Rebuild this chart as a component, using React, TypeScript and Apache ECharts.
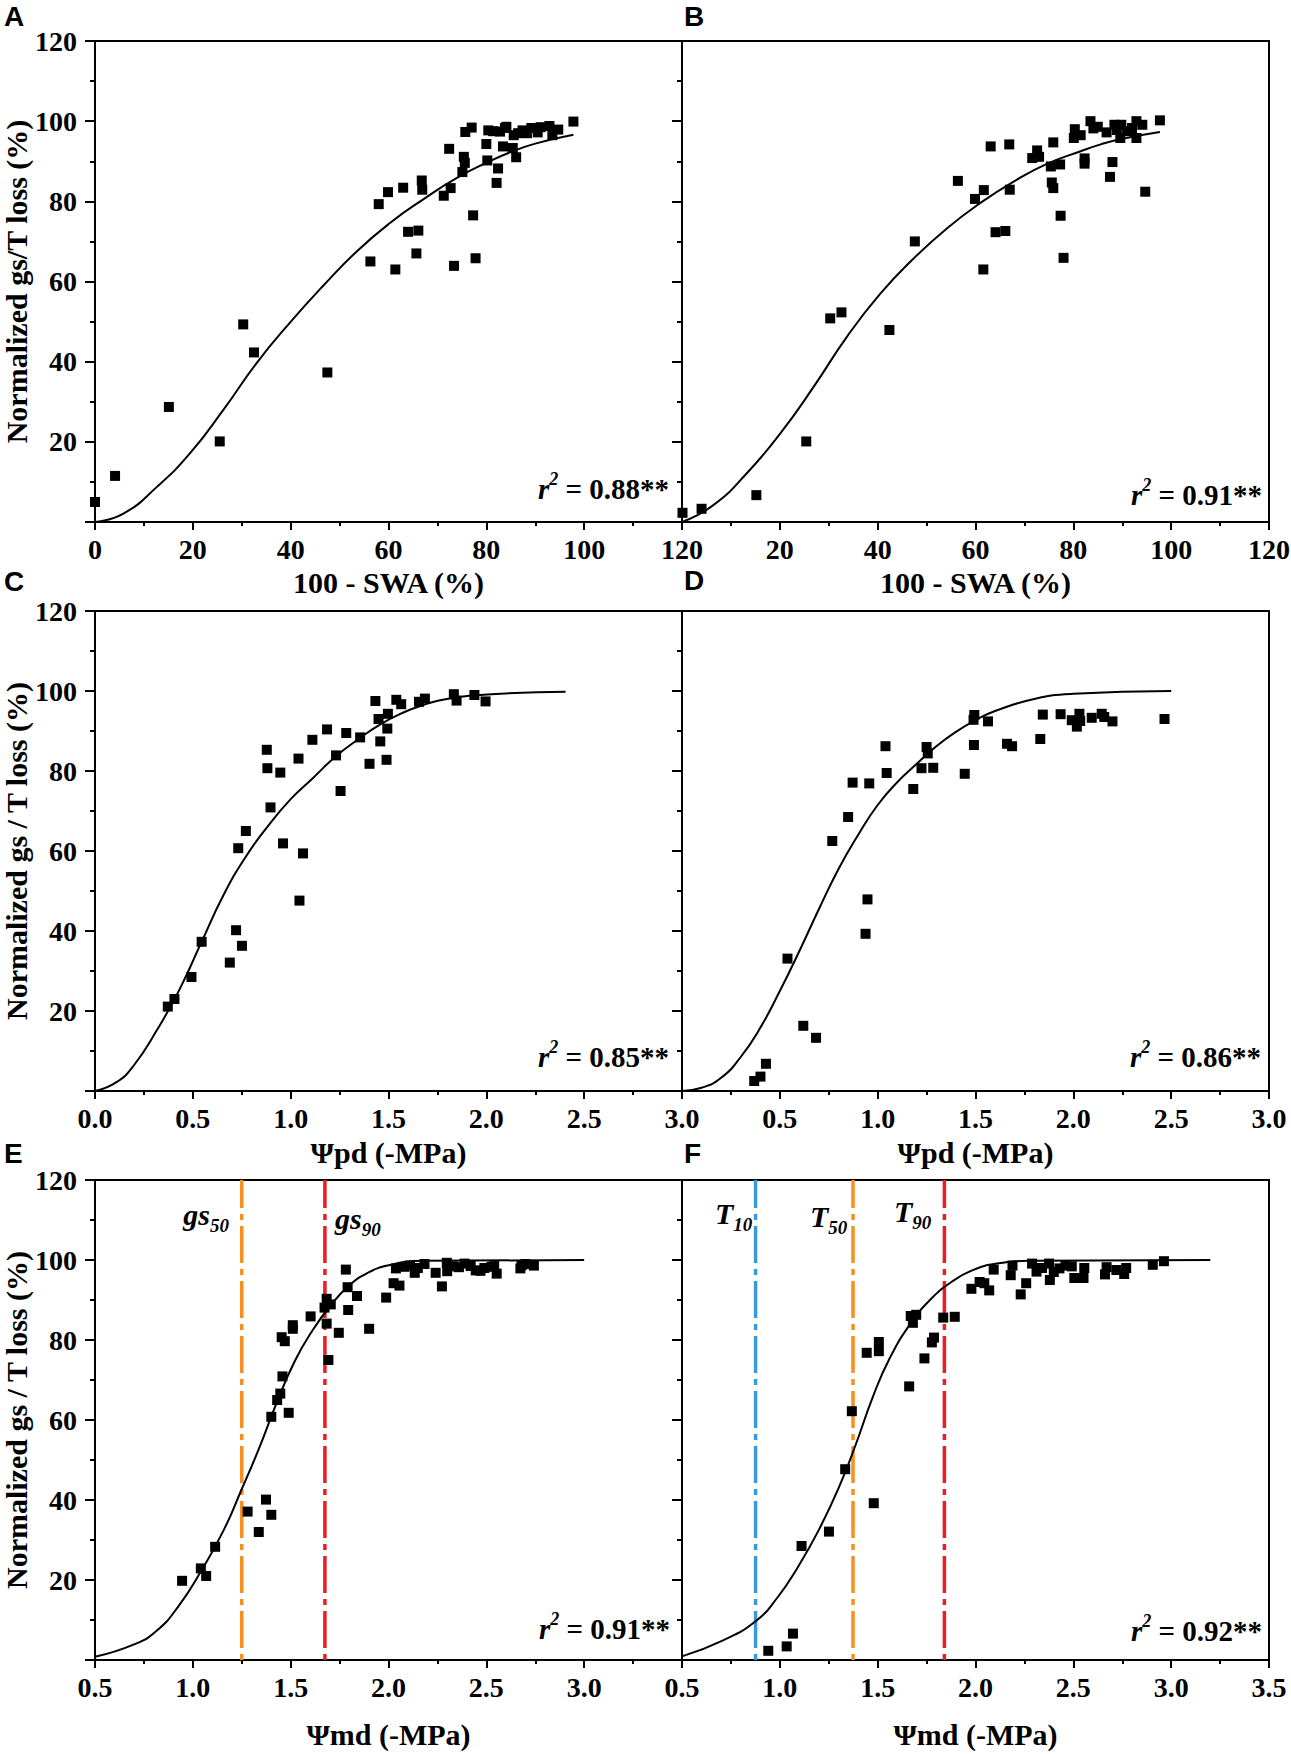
import React, { useEffect, useRef } from "react";
import * as echarts from "echarts";

// ---------- data ----------
const ptsA = [[0,5.0],[4.1,11.5],[15.1,28.7],[25.5,20.1],[30.3,49.3],[32.5,42.3],[47.5,37.3],[56.3,65],[58.0,79.3],[59.9,82.3],[61.4,63],[63.0,83.4],[64.0,72.4],[66.1,72.7],[65.7,67],[66.8,85.2],[66.9,82.9],[71.3,81.4],[72.4,93.1],[72.7,83.3],[73.4,63.9],[75.1,87.3],[75.4,91.1],[75.6,89.6],[75.7,97.3],[77.0,98.4],[77.3,76.5],[77.8,65.8],[80.0,94.3],[80.2,90.2],[80.4,97.7],[81.4,97.5],[82.1,84.6],[82.4,88.2],[82.8,97.4],[83.4,93.7],[83.8,98.3],[84.1,98.6],[85.4,93.3],[86.1,91.0],[85.6,96.5],[86.5,97.0],[87.4,97.7],[88.3,97.0],[89.2,98.3],[90.5,97.2],[91.1,98.5],[92.9,98.8],[93.5,96.5],[94.7,97.9],[97.8,99.9]];
const fitA = [[0,0],[5.8,2.1],[12.6,8.7],[19.4,17.1],[26.2,27.9],[33.0,39.6],[39.9,49.8],[46.7,59.0],[53.5,67.5],[60.3,74.6],[67.1,80.5],[73.9,85.8],[80.7,90.0],[85,92.3],[90,94.4],[97.8,96.6]];

const ptsB = [[0.1,2.3],[4.0,3.3],[15.2,6.7],[25.4,20.1],[30.3,50.8],[32.6,52.3],[42.4,47.9],[47.6,70],[56.4,85.1],[59.9,80.6],[61.7,82.8],[61.6,63],[63.1,93.7],[64.1,72.3],[66.1,72.6],[66.9,94.2],[67.0,82.9],[71.6,90.8],[72.6,92.7],[73.0,91.1],[75.4,88.7],[75.9,94.7],[75.6,84.7],[75.9,83.3],[77.3,89.2],[77.4,76.4],[78.0,65.9],[80.3,98.0],[80.1,95.8],[81.5,96.5],[82.3,90.7],[82.3,89.4],[83.5,100],[84.1,98.2],[85.0,98.6],[86.8,97.2],[88.0,89.8],[87.5,86.1],[88.4,99.1],[88.9,97.8],[89.8,99.1],[89.6,95.8],[91,97.5],[92,98.3],[92.9,100],[92.9,95.8],[94.1,99.1],[94.7,82.4],[97.7,100.2]];
const fitB = [[0,0],[6.4,4.2],[13.2,12.1],[20.1,22.1],[26.9,33.7],[33.7,46.2],[40.5,56.9],[47.4,65.8],[54.2,73.3],[61.0,79.6],[67.9,85.0],[74.7,89.4],[81.5,92.5],[85.6,94.2],[90,95.6],[97.7,97.3]];

const ptsC = [[0.372,21.1],[0.406,23.0],[0.493,28.5],[0.545,37.3],[0.689,32.1],[0.721,40.2],[0.751,36.3],[0.732,60.7],[0.771,65],[0.878,85.3],[0.881,80.7],[0.897,70.9],[0.947,79.6],[0.961,61.9],[1.040,83.1],[1.045,47.6],[1.063,59.4],[1.111,87.8],[1.186,90.4],[1.232,83.9],[1.255,75],[1.284,89.5],[1.355,88.4],[1.403,81.8],[1.433,97.5],[1.449,93],[1.458,87.4],[1.490,82.8],[1.497,94.3],[1.494,90.6],[1.540,97.8],[1.565,96.7],[1.656,97.3],[1.686,98.1],[1.834,99.2],[1.848,97.6],[1.939,99],[1.996,97.4]];
const fitC = [[0,0],[0.11,2.2],[0.2,6.5],[0.315,15.1],[0.429,25.1],[0.543,37.1],[0.657,49.0],[0.771,58.6],[0.885,66.3],[0.999,72.9],[1.113,78.2],[1.227,83.5],[1.342,87.8],[1.456,91.6],[1.57,94.5],[1.684,96.6],[1.798,98.0],[2.026,99.2],[2.405,99.8]];

const ptsD = [[0.369,2.5],[0.401,3.6],[0.429,6.8],[0.539,33.1],[0.620,16.3],[0.685,13.3],[0.768,62.5],[0.849,68.5],[0.872,77.1],[0.957,76.9],[0.948,47.9],[0.938,39.3],[1.040,86.2],[1.046,79.5],[1.182,75.5],[1.224,80.7],[1.250,86],[1.256,84.4],[1.284,80.8],[1.445,79.3],[1.494,94],[1.490,92.8],[1.492,86.5],[1.564,92.4],[1.661,86.8],[1.687,86.2],[1.831,88],[1.844,94.1],[1.935,94.2],[1.992,92.7],[2.018,91.1],[2.031,94.3],[2.035,92.5],[2.094,93.3],[2.145,94.3],[2.158,93.5],[2.2,92.4],[2.466,93]];
const fitD = [[0,0],[0.1,0.8],[0.2,3.3],[0.3,8.5],[0.4,15.8],[0.5,25],[0.6,35],[0.7,45.5],[0.8,55.5],[0.9,64],[1.0,71.5],[1.1,77.2],[1.2,81.8],[1.3,86.2],[1.4,89.8],[1.5,92.7],[1.6,95],[1.8,98],[2.0,99.3],[2.5,100]];

const ptsE = [[0.945,19.8],[1.041,22.9],[1.068,21.0],[1.114,28.3],[1.280,37.1],[1.337,32.0],[1.374,40.1],[1.401,36.3],[1.401,60.8],[1.431,65],[1.447,66.6],[1.458,70.9],[1.490,61.8],[1.454,80.7],[1.470,79.7],[1.511,83.7],[1.511,82.8],[1.602,85.9],[1.673,88.1],[1.684,90.3],[1.684,84.1],[1.693,75],[1.705,88.9],[1.746,81.8],[1.782,97.6],[1.791,93.2],[1.794,87.5],[1.839,91],[1.901,82.8],[1.988,90.6],[2.026,94.2],[2.038,97.9],[2.056,93.6],[2.081,98.3],[2.11,98.6],[2.134,96.8],[2.15,98.0],[2.184,99],[2.241,96.8],[2.273,93.4],[2.298,99.3],[2.30,97.2],[2.33,98.4],[2.36,98.2],[2.389,99.1],[2.42,98.5],[2.446,97.4],[2.47,97.3],[2.49,98.0],[2.526,98.3],[2.54,98.6],[2.553,96.6],[2.674,97.9],[2.68,98.7],[2.70,99.0],[2.743,98.6]];
const fitE = [[0.5,0.8],[0.7,3.9],[0.815,7.3],[0.929,13.6],[1.043,22.3],[1.157,32.4],[1.248,42.5],[1.34,53.1],[1.431,64.6],[1.522,74.8],[1.613,82.5],[1.705,88.7],[1.796,93.5],[1.887,96.6],[2.001,98.7],[2.184,99.8],[3.0,100]];
const refE = [1.25, 1.675];

const ptsF = [[0.941,2.3],[1.035,3.4],[1.067,6.6],[1.111,28.5],[1.251,32.1],[1.334,47.7],[1.368,62.2],[1.480,39.2],[1.444,76.8],[1.506,77.2],[1.506,79.5],[1.661,68.4],[1.669,86],[1.680,84.3],[1.697,86.3],[1.739,75.4],[1.777,79.4],[1.788,80.6],[1.835,85.6],[1.894,85.8],[1.979,92.8],[2.021,94.5],[2.045,94.2],[2.070,92.4],[2.093,97.6],[2.180,96.2],[2.189,98.6],[2.231,91.4],[2.259,94.2],[2.289,99.1],[2.312,97.1],[2.340,98.0],[2.376,99.1],[2.380,95],[2.40,97.0],[2.429,97.9],[2.46,98.6],[2.492,98.4],[2.505,95.5],[2.552,95.5],[2.556,98.0],[2.662,96.4],[2.67,98.2],[2.72,97.5],[2.77,98.0],[2.76,96.5],[2.906,98.8],[2.963,99.7]];
const fitF = [[0.5,0.9],[0.71,4.9],[0.876,9.7],[0.986,15.5],[1.092,23.2],[1.198,32.4],[1.304,43.4],[1.389,54],[1.474,65.6],[1.559,75.2],[1.665,83.9],[1.771,90.2],[1.877,94.5],[1.983,97.4],[2.11,99.1],[2.3,99.8],[3.2,100]];
const refF = [0.876, 1.374, 1.841];

const r2Labels = ["0.88", "0.91", "0.85", "0.86", "0.91", "0.92"];
const panelLetters = ["A", "B", "C", "D", "E", "F"];
const xTitles = ["100 - SWA (%)", "100 - SWA (%)", "\u03A8pd (-MPa)", "\u03A8pd (-MPa)", "\u03A8md (-MPa)", "\u03A8md (-MPa)"];
const yTitles = ["Normalized gs/T loss (%)", "", "Normalized gs / T loss (%)", "", "Normalized gs / T loss (%)", ""];
const xRanges = [[0, 120, 20], [0, 120, 20], [0, 3, 0.5], [0, 3, 0.5], [0.5, 3.5, 0.5], [0.5, 3.5, 0.5]];
const yRange = [0, 120, 20];

// ---------- layout ----------
const SERIF = "'Liberation Serif', 'Times New Roman', serif";
const SANS = "'Liberation Sans', Arial, sans-serif";
const LEFTS = [95, 682];
const TOPS = [41, 611, 1180];
const GW = 587;
const GH = 480;
const ORANGE = "#F7901E";
const RED = "#EC1C24";
const BLUE = "#3A9AD9";

function buildOption() {
  const pts = [ptsA, ptsB, ptsC, ptsD, ptsE, ptsF];
  const fits = [fitA, fitB, fitC, fitD, fitE, fitF];
  const grids: any[] = [];
  const xAxes: any[] = [];
  const yAxes: any[] = [];
  const series: any[] = [];
  const graphics: any[] = [];
  const nameGaps = [45, 45, 46, 46, 59, 59];

  for (let i = 0; i < 6; i++) {
    const col = i % 2;
    const row = Math.floor(i / 2);
    grids.push({
      left: LEFTS[col], top: TOPS[row], width: GW, height: row === 0 ? 481 : GH,
      show: true, borderColor: "#000", borderWidth: 2, backgroundColor: "transparent",
      containLabel: false, outerBoundsMode: "none",
    });
    const [mn, mx, iv] = xRanges[i];
    const decimals = iv < 1;
    xAxes.push({
      type: "value", gridIndex: i, min: mn, max: mx, interval: iv,
      name: xTitles[i], nameLocation: "middle", nameGap: nameGaps[i],
      nameTextStyle: { fontFamily: SERIF, fontWeight: "bold", fontSize: 30, color: "#000" },
      axisLine: { show: true, onZero: false, lineStyle: { color: "#000", width: 2 } },
      axisTick: { show: true, inside: false, length: 8, lineStyle: { color: "#000", width: 2 } },
      minorTick: { show: true, splitNumber: 2, length: 4, lineStyle: { color: "#000", width: 2 } },
      splitLine: { show: false },
      axisLabel: {
        show: true, margin: 13, fontFamily: SERIF, fontWeight: "bold", fontSize: 28, color: "#000",
        showMinLabel: col === 1 && row < 2 ? false : true,
        showMaxLabel: i === 4 ? false : true,
        formatter: (v: number) => (decimals ? v.toFixed(1) : String(v)),
      },
    });
    yAxes.push({
      type: "value", gridIndex: i, min: yRange[0], max: yRange[1], interval: yRange[2],
      name: yTitles[i], nameLocation: "middle", nameGap: 64,
      nameTextStyle: { fontFamily: SERIF, fontWeight: "bold", fontSize: 30, color: "#000" },
      axisLine: { show: true, onZero: false, lineStyle: { color: "#000", width: 2 } },
      axisTick: { show: true, inside: false, length: 10, lineStyle: { color: "#000", width: 2 } },
      minorTick: { show: true, splitNumber: 2, length: 5, lineStyle: { color: "#000", width: 2 } },
      splitLine: { show: false },
      axisLabel: {
        show: col === 0, margin: 18, fontFamily: SERIF, fontWeight: "bold", fontSize: 28, color: "#000",
        showMinLabel: false,
      },
    });
    series.push({
      type: "line", xAxisIndex: i, yAxisIndex: i, data: fits[i], smooth: 0.5,
      symbol: "none", lineStyle: { color: "#000", width: 2 }, z: 3, silent: true,
    });
    series.push({
      type: "scatter", xAxisIndex: i, yAxisIndex: i, data: pts[i], symbol: "rect", symbolSize: 10,
      itemStyle: { color: "#000", opacity: 1 }, z: 4, silent: true,
    });
  }

  const refLine = (idx: number, x: number, color: string) => ({
    type: "line", xAxisIndex: idx, yAxisIndex: idx, data: [[x, 120], [x, 0]], symbol: "none",
    lineStyle: { color, width: 3.5, type: [37, 6, 6, 6], dashOffset: 9 }, z: 2, silent: true,
  });
  series.push(refLine(4, refE[0], ORANGE));
  series.push(refLine(4, refE[1], RED));
  series.push(refLine(5, refF[0], BLUE));
  series.push(refLine(5, refF[1], ORANGE));
  series.push(refLine(5, refF[2], RED));

  // panel letters
  const letterPos = [[4, 16], [684, 16], [4, 581], [684, 580], [4, 1153], [684, 1153]];
  panelLetters.forEach((t, i) => {
    graphics.push({
      type: "text", x: letterPos[i][0], y: letterPos[i][1], z: 10,
      style: { text: t, fill: "#000", font: `bold 28px ${SANS}`, align: "left", verticalAlign: "middle" },
    });
  });

  // r^2 annotations
  const r2Pos = [[669, 489], [1262, 495], [669, 1057], [1261, 1057], [670, 1629], [1262, 1631]];
  r2Labels.forEach((v, i) => {
    graphics.push({
      type: "text", x: r2Pos[i][0], y: r2Pos[i][1], z: 10,
      style: {
        text: `{r|r}{s|2}{t| = ${v}**}`, align: "right", verticalAlign: "middle", fill: "#000",
        rich: {
          r: { fontFamily: SERIF, fontStyle: "italic", fontWeight: "bold", fontSize: 29, lineHeight: 39, fill: "#000" },
          s: { fontFamily: SERIF, fontStyle: "italic", fontWeight: "bold", fontSize: 18, lineHeight: 18, verticalAlign: "top", fill: "#000" },
          t: { fontFamily: SERIF, fontWeight: "bold", fontSize: 29, lineHeight: 39, fill: "#000" },
        },
      },
    });
  });

  // threshold labels with subscripts
  const subText = (main: string, sub: string, x: number, y: number, align: string) => ({
    type: "text", x, y, z: 10,
    style: {
      text: `{m|${main}}{u|${sub}}`, align, verticalAlign: "middle", fill: "#000",
      rich: {
        m: { fontFamily: SERIF, fontStyle: "italic", fontWeight: "bold", fontSize: 30, lineHeight: 41, fill: "#000" },
        u: { fontFamily: SERIF, fontStyle: "italic", fontWeight: "bold", fontSize: 19, lineHeight: 19, verticalAlign: "bottom", fill: "#000" },
      },
    },
  });
  graphics.push(subText("gs", "50", 229, 1214, "right"));
  graphics.push(subText("gs", "90", 335, 1218, "left"));
  graphics.push(subText("T", "10", 715, 1213, "left"));
  graphics.push(subText("T", "50", 810, 1216, "left"));
  graphics.push(subText("T", "90", 894, 1211, "left"));

  return {
    animation: false,
    backgroundColor: "#fff",
    grid: grids,
    xAxis: xAxes,
    yAxis: yAxes,
    series,
    graphic: graphics,
  };
}

export default function App() {
  const ref = useRef<HTMLDivElement>(null);
  useEffect(() => {
    const chart = echarts.init(ref.current as HTMLDivElement, null, { renderer: "svg" });
    chart.setOption(buildOption() as any);
    return () => chart.dispose();
  }, []);
  return (
    <div
      ref={ref}
      style={{ position: "absolute", left: 0, top: 0, width: 1291, height: 1754, background: "#fff" }}
    />
  );
}
